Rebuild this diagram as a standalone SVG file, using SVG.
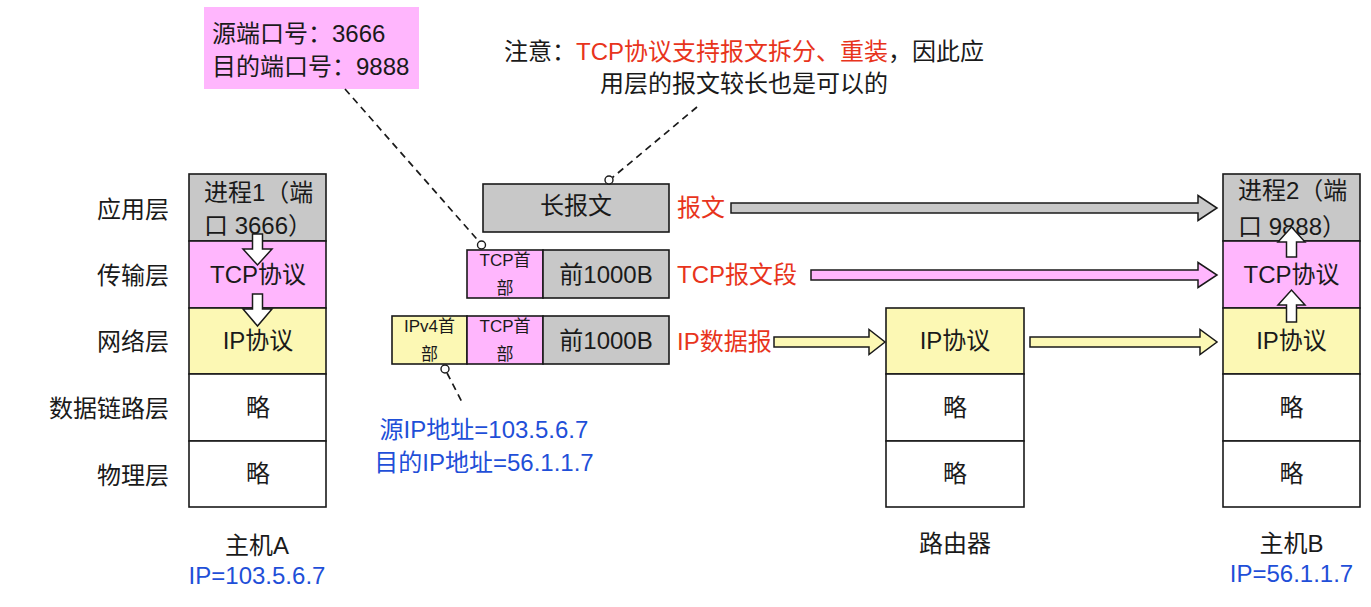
<svg xmlns="http://www.w3.org/2000/svg" width="1371" height="607" viewBox="0 0 1371 607">
<style>
text{font-family:'Liberation Sans','Noto Sans CJK SC',sans-serif;font-size:24px;fill:#1a1a1a}
.c{text-anchor:middle}
.r{text-anchor:end}
.sm{font-size:17px}
.red{fill:#e8341c}
.blue{fill:#1f4fd8}
.box{stroke:#1a1a1a;stroke-width:1.6}
.gray{fill:#c8c8c8}
.pink{fill:#ffb6fd}
.yel{fill:#fcf8b4}
.wht{fill:#ffffff}
.dash{fill:none;stroke:#1a1a1a;stroke-width:1.7;stroke-dasharray:7 5}
.dot{fill:#ffffff;stroke:#1a1a1a;stroke-width:1.4}
.arr{stroke:#1a1a1a;stroke-width:1.5;stroke-linejoin:miter}
</style>
<rect width="1371" height="607" fill="#ffffff"/>

<g id="port-note">
<rect x="204" y="7" width="215" height="82" class="pink"/>
<text x="212" y="42">源端口号：3666</text>
<text x="212" y="75">目的端口号：9888</text>
</g>

<g id="tcp-note">
<text x="744" y="60" class="c">注意：<tspan class="red">TCP协议支持报文拆分、重装</tspan>，因此应</text>
<text x="744" y="92" class="c">用层的报文较长也是可以的</text>
</g>

<g id="layer-labels">
<text x="169" y="218" class="r">应用层</text>
<text x="169" y="284" class="r">传输层</text>
<text x="169" y="350" class="r">网络层</text>
<text x="169" y="417" class="r">数据链路层</text>
<text x="169" y="484" class="r">物理层</text>
</g>

<g id="hostA">
<rect x="189" y="174" width="137" height="67" class="box gray"/>
<rect x="189" y="241" width="137" height="67" class="box pink"/>
<rect x="189" y="308" width="137" height="66" class="box yel"/>
<rect x="189" y="374" width="137" height="67" class="box wht"/>
<rect x="189" y="441" width="137" height="66" class="box wht"/>
<text x="204" y="201">进程1（端</text>
<text x="204" y="234">口 3666）</text>
<text x="258" y="283" class="c">TCP协议</text>
<text x="258" y="349" class="c">IP协议</text>
<text x="258" y="416" class="c">略</text>
<text x="258" y="482" class="c">略</text>
<text x="257" y="554" class="c">主机A</text>
<text x="257" y="584" class="c blue">IP=103.5.6.7</text>
</g>

<g id="message">
<rect x="483" y="184" width="186" height="48" class="box gray"/>
<text x="576" y="214" class="c">长报文</text>
</g>

<g id="tcp-segment">
<rect x="467" y="250" width="76" height="48" class="box pink"/>
<rect x="543" y="250" width="126" height="48" class="box gray"/>
<text x="505" y="266" class="c sm">TCP首</text>
<text x="505" y="294" class="c sm">部</text>
<text x="606" y="283" class="c">前1000B</text>
</g>

<g id="ip-datagram">
<rect x="392" y="316" width="75" height="48" class="box yel"/>
<rect x="467" y="316" width="76" height="48" class="box pink"/>
<rect x="543" y="316" width="126" height="48" class="box gray"/>
<text x="429.5" y="332" class="c sm">IPv4首</text>
<text x="429.5" y="360" class="c sm">部</text>
<text x="505" y="332" class="c sm">TCP首</text>
<text x="505" y="360" class="c sm">部</text>
<text x="606" y="349" class="c">前1000B</text>
</g>

<g id="ip-note">
<text x="484" y="438" class="c blue">源IP地址=103.5.6.7</text>
<text x="484" y="471" class="c blue">目的IP地址=56.1.1.7</text>
</g>

<g id="router">
<rect x="886" y="308" width="138" height="66" class="box yel"/>
<rect x="886" y="374" width="138" height="67" class="box wht"/>
<rect x="886" y="441" width="138" height="66" class="box wht"/>
<text x="955" y="349" class="c">IP协议</text>
<text x="955" y="416" class="c">略</text>
<text x="955" y="482" class="c">略</text>
<text x="955" y="552" class="c">路由器</text>
</g>

<g id="hostB">
<rect x="1223" y="174" width="137" height="67" class="box gray"/>
<rect x="1223" y="241" width="137" height="67" class="box pink"/>
<rect x="1223" y="308" width="137" height="66" class="box yel"/>
<rect x="1223" y="374" width="137" height="67" class="box wht"/>
<rect x="1223" y="441" width="137" height="66" class="box wht"/>
<text x="1238" y="199">进程2（端</text>
<text x="1238" y="235">口 9888）</text>
<text x="1291.5" y="283" class="c">TCP协议</text>
<text x="1291.5" y="349" class="c">IP协议</text>
<text x="1291.5" y="416" class="c">略</text>
<text x="1291.5" y="482" class="c">略</text>
<text x="1291.5" y="552" class="c">主机B</text>
<text x="1291.5" y="582" class="c blue">IP=56.1.1.7</text>
</g>

<g id="flow-labels">
<text x="677" y="216" class="red">报文</text>
<text x="677" y="283" class="red">TCP报文段</text>
<text x="677" y="350" class="red">IP数据报</text>
</g>

<g id="connectors">
<path class="arr gray" d="M731 203 L1198 203 L1198 195.5 L1217 208 L1198 220.5 L1198 213 L731 213 Z"/>
<path class="arr pink" d="M811 270 L1198 270 L1198 262.5 L1217 275 L1198 287.5 L1198 280 L811 280 Z"/>
<path class="arr yel" d="M774 337 L869 337 L869 329.5 L885 342 L869 354.5 L869 347 L774 347 Z"/>
<path class="arr yel" d="M1030 337 L1200 337 L1200 329.5 L1217 342 L1200 354.5 L1200 347 L1030 347 Z"/>
<path class="arr wht" d="M252.5 234 L262.5 234 L262.5 249 L272 249 L257.5 265 L243 249 L252.5 249 Z"/>
<path class="arr wht" d="M252.5 294 L262.5 294 L262.5 309 L272 309 L257.5 326 L243 309 L252.5 309 Z"/>
<path class="arr wht" d="M1286.5 257 L1296.5 257 L1296.5 242 L1305 242 L1291.5 227 L1278 242 L1286.5 242 Z"/>
<path class="arr wht" d="M1286.5 322 L1296.5 322 L1296.5 305 L1305 305 L1291.5 290 L1278 305 L1286.5 305 Z"/>
<line class="dash" x1="345" y1="89" x2="479" y2="241.5"/>
<line class="dash" x1="697" y1="107" x2="612.5" y2="177.5"/>
<line class="dash" x1="447" y1="373" x2="463" y2="404"/>
<circle class="dot" cx="481.5" cy="245" r="4"/>
<circle class="dot" cx="609" cy="180" r="4"/>
<circle class="dot" cx="445" cy="369" r="4"/>
</g>
</svg>
